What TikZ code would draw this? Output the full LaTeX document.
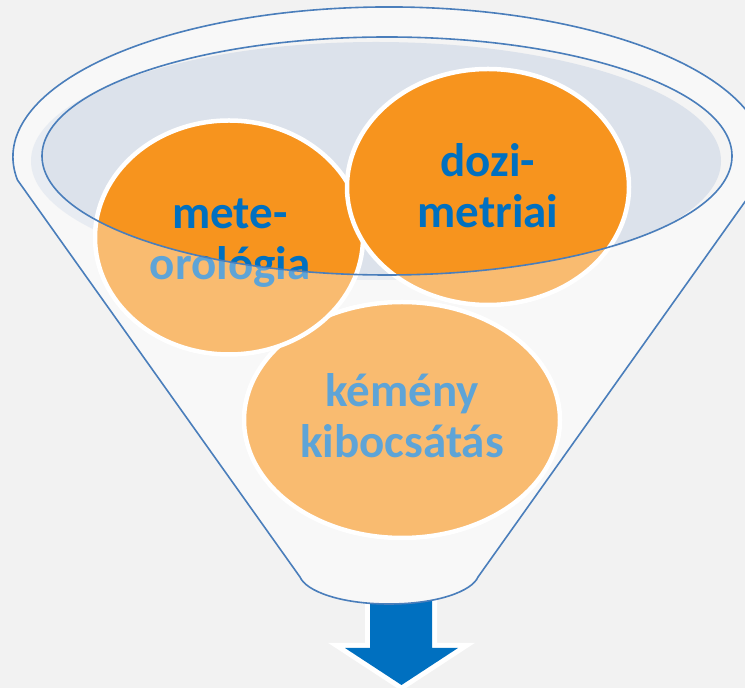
\documentclass[tikz,border=0pt]{standalone}
\usepackage{fontspec}
\setmainfont{Carlito}
\definecolor{bg}{HTML}{F2F2F2}
\definecolor{funnelfill}{HTML}{F4F4F4}
\definecolor{innerfill}{HTML}{DCE2EB}
\definecolor{orfill}{HTML}{F7941E}
\definecolor{txtblue}{HTML}{0070C0}
\definecolor{lineblue}{HTML}{4A7EBB}
\newcommand\funnelpath{(300,111) -- (17.4,508.1) arc[start angle=188.8, end angle=-8.8, x radius=376, y radius=150] -- (478,111) .. controls (472,97) and (438,84) .. (389,84) .. controls (340,84) and (306,97) .. (300,111) -- cycle}
\newcommand\innerpath{(387,532) ellipse [x radius=345, y radius=119]}
\begin{document}
\begin{tikzpicture}[x=1pt,y=1pt,
  circ/.style={draw=white, line width=4.5pt, fill=orfill},
  lbl/.style={font=\bfseries\fontsize{47}{51}\selectfont, text=txtblue, align=center, inner sep=0pt},
  outl/.style={draw=lineblue, line width=1.6pt}]
\useasboundingbox (0,0) rectangle (745,688);
\fill[bg] (0,0) rectangle (745,688);
% arrow
\path[fill=white, draw=white, line width=10pt, line join=miter]
  (370,88) -- (370,40) -- (345,40) -- (401.5,3) -- (458,40) -- (432,40) -- (432,88) -- cycle;
\fill[txtblue] (370,88) -- (370,40) -- (345,40) -- (401.5,3) -- (458,40) -- (432,40) -- (432,88) -- cycle;
% funnel body
\fill[funnelfill] \funnelpath;
\fill[innerfill] (376,527) ellipse [x radius=345, y radius=119];
% circles
\draw[circ] (402,268) ellipse [x radius=158, y radius=118];
\draw[circ] (229,450.5) ellipse [x radius=134, y radius=117];
\draw[circ] (488,501) ellipse [x radius=141, y radius=118];
\node[lbl] (kemeny) at (402,272) {kémény\\kibocsátás};
\node[lbl] (meteo) at (230,445) {mete-\\orológia};
\node[lbl] (dozi) at (488,502) {dozi-\\metriai};
% front glass overlay
\fill[white, fill opacity=0.37, even odd rule] \funnelpath \innerpath;
% outlines
\draw[outl, line join=round] \funnelpath;
\draw[outl] \innerpath;
\end{tikzpicture}
\end{document}
